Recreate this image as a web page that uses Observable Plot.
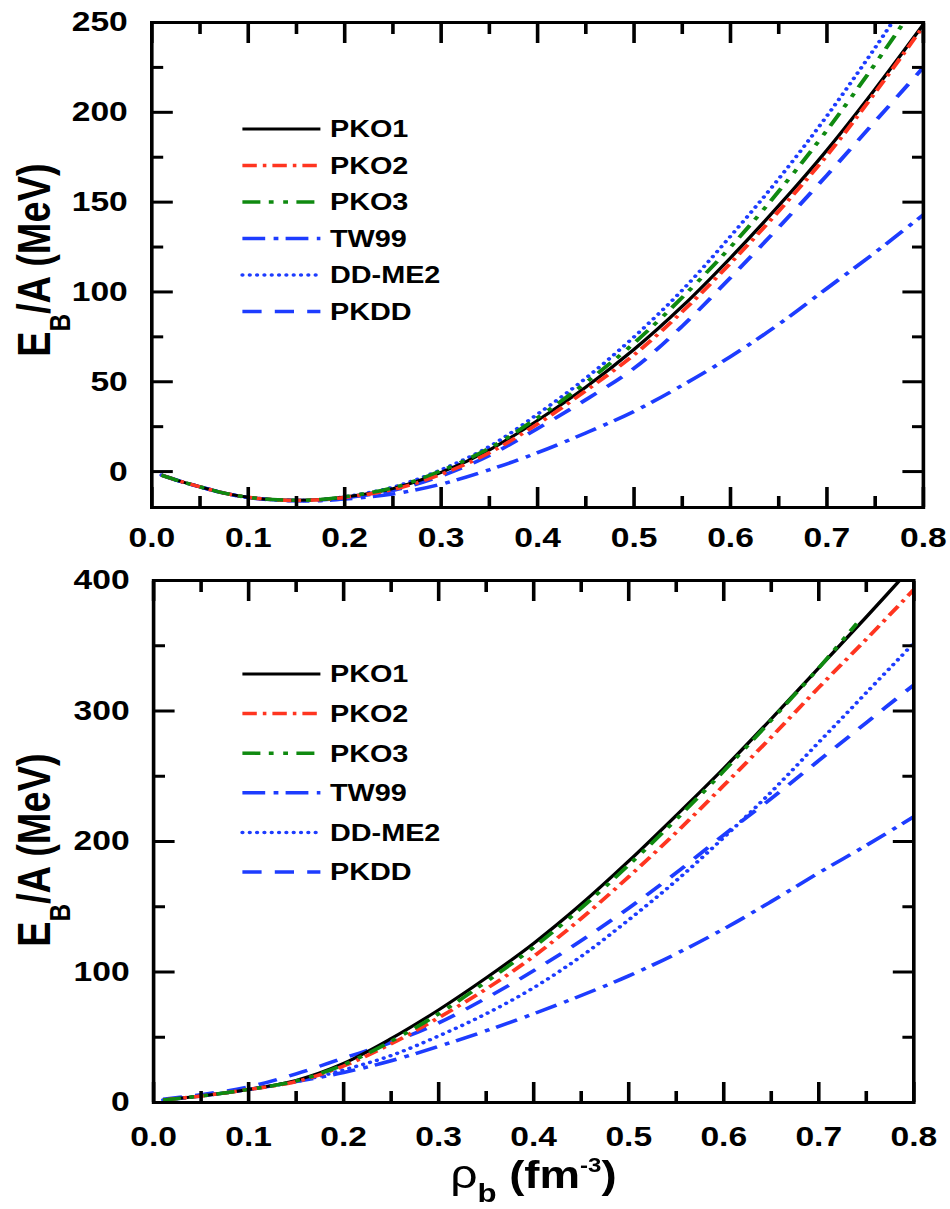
<!DOCTYPE html>
<html><head><meta charset="utf-8">
<script src="https://cdn.jsdelivr.net/npm/d3@7"></script>
<script src="https://cdn.jsdelivr.net/npm/@observablehq/plot@0.6"></script>
<style>
html,body{margin:0;padding:0;background:#fff;overflow:hidden;}
#wrap{width:792px;transform:scaleX(1.2);transform-origin:0 0;}
#wrap svg{display:block;}
</style></head><body><div id="wrap"></div>
<script>
// ---- data ----
const seriesNames = ["PKO1", "PKO2", "PKO3", "TW99", "DD-ME2", "PKDD"];
const seriesColors = ["#000000", "#ff3520", "#0f8a10", "#1d3cff", "#1d3cff", "#1d3cff"];
const seriesDash = [null, "12,5,3,5", "15,7,4,8,4,7", "19,7,4,6", "0.1,6", "16,11"];
const seriesCap = ["butt", "butt", "butt", "butt", "round", "butt"];
const seriesWidth = [3, 3.5, 3.5, 3.5, 3.5, 3.5];
const drawOrder = [3, 4, 5, 0, 1, 2];

// upper panel: symmetric matter
const rhoTop = [0.01, 0.03, 0.05, 0.075, 0.1, 0.125, 0.15, 0.175, 0.2, 0.25, 0.3, 0.35, 0.4, 0.45, 0.5, 0.55, 0.6, 0.65, 0.7, 0.75, 0.8];
const topPKO1 = [-2, -5.5, -8.5, -12, -14.3, -15.6, -16, -15.6, -14.2, -9.5, -0.5, 12, 28.5, 47, 68, 92, 119, 148, 179, 213, 249];
const topPKO2 = [-2, -5.5, -8.5, -12, -14.3, -15.6, -16.1, -15.7, -14.4, -10, -1.5, 10.5, 26.5, 45, 65, 89, 116, 145, 176, 211, 248];
const topPKO3 = [-2, -5.5, -8.5, -12, -14.3, -15.6, -16, -15.5, -14, -9, 0.5, 13, 30, 49.5, 71.5, 97, 125, 156, 190, 227, 266];
const topTW99 = [-2, -5.5, -8.5, -12, -14.5, -15.8, -16.3, -16.2, -15.3, -12.5, -7, 1, 10.5, 21.5, 33.5, 48, 64, 82, 102, 122, 143];
const topDDME2 = [-2, -5.5, -8.5, -12, -14.3, -15.6, -16.1, -15.6, -14, -8.7, 1, 14, 32, 52, 75, 101, 131, 163, 198, 236, 276];
const topPKDD = [-2, -5.5, -8.5, -12, -14.4, -15.7, -16.1, -15.8, -14.6, -10.5, -2.5, 9, 24, 40, 57.5, 81, 108, 136, 165, 195, 225];

// lower panel: neutron matter
const rhoBot = [0.01, 0.05, 0.1, 0.15, 0.2, 0.25, 0.3, 0.35, 0.4, 0.45, 0.5, 0.55, 0.6, 0.65, 0.7, 0.75, 0.8];
const rhoBotPKO3 = [0.01, 0.05, 0.1, 0.15, 0.2, 0.25, 0.3, 0.35, 0.4, 0.45, 0.5, 0.55, 0.6, 0.65, 0.7, 0.74];
const botPKO1 = [2, 5, 10, 17, 30, 49, 71, 95.5, 122, 152, 185, 220, 256, 294, 333, 372, 412];
const botPKO2 = [2, 5, 10, 16, 28, 45, 65, 87, 112, 141, 173, 207, 243, 280, 318, 355, 393];
const botPKO3 = [2, 5, 10, 16.5, 29, 47, 68, 92.5, 119, 149, 182, 217, 254, 293, 333, 367];
const botTW99 = [2, 5, 10, 16, 23, 32, 43, 55, 68, 82, 97, 114, 133, 154, 176, 197, 219];
const botDDME2 = [2, 5, 10, 16, 25, 36, 51, 68, 88, 112, 140, 170, 203, 238, 276, 314, 352];
const botPKDD = [2.5, 6, 12, 22, 34, 46, 61, 80, 101, 124, 149, 176, 205, 233, 262, 291, 320];

const xMajor = [0, 0.1, 0.2, 0.3, 0.4, 0.5, 0.6, 0.7, 0.8];
const xMinor = [0.05, 0.15, 0.25, 0.35, 0.45, 0.55, 0.65, 0.75];
const yMajorTop = [0, 50, 100, 150, 200, 250];
const yMinorTop = [25, 75, 125, 175, 225];
const yMajorBot = [0, 100, 200, 300, 400];
const yMinorBot = [50, 150, 250, 350];

// ---- build ----
const FONT = "'Liberation Sans', Arial, sans-serif";
function toRows(xs, ys) { return xs.map((x, i) => ({rho: x, e: ys[i]})); }

function panel(cfg) {
  const lines = drawOrder.map(i => {
    const s = cfg.series[i];
    return Plot.line(toRows(s.rho, s.e), {
      x: "rho", y: "e", stroke: seriesColors[i], strokeWidth: seriesWidth[i],
      strokeDasharray: seriesDash[i] || undefined, strokeLinecap: seriesCap[i],
      curve: "catmull-rom", clip: true
    });
  });
  const plot = Plot.plot({
    width: 792, height: cfg.height,
    marginLeft: cfg.ml, marginRight: cfg.mr, marginTop: cfg.mt, marginBottom: cfg.mb,
    x: {domain: [0, 0.8]},
    y: {domain: cfg.yDomain},
    style: {fontFamily: FONT, fontWeight: "bold", fontSize: "28px", color: "#000", background: "#fff", overflow: "visible"},
    marks: [
      ...lines,
      Plot.frame({stroke: "#000", strokeWidth: 3}),
      Plot.axisX({ticks: xMajor, anchor: "bottom", tickSize: -20, fill: null, label: null, strokeWidth: 3}),
      Plot.axisX({ticks: xMinor, anchor: "bottom", tickSize: -11, fill: null, label: null, strokeWidth: 3}),
      Plot.axisX({ticks: xMajor, anchor: "top", tickSize: -20, fill: null, label: null, strokeWidth: 3}),
      Plot.axisX({ticks: xMinor, anchor: "top", tickSize: -11, fill: null, label: null, strokeWidth: 3}),
      Plot.axisX({ticks: xMajor, anchor: "bottom", tickSize: 0, tickPadding: cfg.xPad, tickFormat: d => d.toFixed(1), label: null, fontSize: 28, fontWeight: "bold"}),
      Plot.axisY({ticks: cfg.yMajor, anchor: "left", tickSize: -18, fill: null, label: null, strokeWidth: 3}),
      Plot.axisY({ticks: cfg.yMinor, anchor: "left", tickSize: -10, fill: null, label: null, strokeWidth: 3}),
      Plot.axisY({ticks: cfg.yMajor, anchor: "right", tickSize: -18, fill: null, label: null, strokeWidth: 3}),
      Plot.axisY({ticks: cfg.yMinor, anchor: "right", tickSize: -10, fill: null, label: null, strokeWidth: 3}),
      Plot.axisY({ticks: cfg.yMajor, anchor: "left", tickSize: 0, tickPadding: 20, tickFormat: d => String(d), label: null, fontSize: 28, fontWeight: "bold"})
    ]
  });
  const svg = d3.select(plot);
  // legend
  const lg = svg.append("g").attr("text-anchor", "start");
  seriesNames.forEach((name, i) => {
    const y = cfg.legY0 + i * cfg.legStep;
    lg.append("line").attr("x1", 202).attr("x2", 267).attr("y1", y).attr("y2", y)
      .attr("stroke", seriesColors[i]).attr("stroke-width", seriesWidth[i])
      .attr("stroke-dasharray", seriesDash[i]).attr("stroke-linecap", seriesCap[i]);
    lg.append("text").attr("x", 275).attr("y", y + 8.5).attr("text-anchor", "start")
      .attr("font-family", FONT).attr("font-weight", "bold").attr("font-size", 24).attr("fill", "#000")
      .text(name);
  });
  // y axis label
  const yl = svg.append("text")
    .attr("transform", `translate(42,${cfg.yLabCy}) rotate(-90)`)
    .attr("text-anchor", "middle")
    .attr("font-family", FONT).attr("font-weight", "bold").attr("font-size", 38).attr("fill", "#000");
  yl.append("tspan").text("E");
  yl.append("tspan").attr("font-size", 24).attr("dy", 16).text("B");
  yl.append("tspan").attr("dy", -16).text("/A (MeV)");
  if (cfg.xLabel) {
    const xl = svg.append("text")
      .attr("x", 444.5).attr("y", cfg.xLabY).attr("text-anchor", "middle")
      .attr("font-family", FONT).attr("font-weight", "bold").attr("font-size", 38).attr("fill", "#000");
    xl.append("tspan").attr("font-weight", "normal").attr("font-size", 40).text("\u03C1");
    xl.append("tspan").attr("font-size", 26).attr("dy", 14).text("b");
    xl.append("tspan").attr("dy", -14).text(" (fm");
    xl.append("tspan").attr("font-size", 20).attr("dy", -16).text("-3");
    xl.append("tspan").attr("dy", 16).text(")");
  }
  return plot;
}

const wrap = document.getElementById("wrap");
wrap.appendChild(panel({
  height: 560, ml: 126, mr: 23, mt: 22, mb: 53, xPad: 20,
  yDomain: [-20, 250], yMajor: yMajorTop, yMinor: yMinorTop,
  series: [
    {rho: rhoTop, e: topPKO1}, {rho: rhoTop, e: topPKO2}, {rho: rhoTop, e: topPKO3},
    {rho: rhoTop, e: topTW99}, {rho: rhoTop, e: topDDME2}, {rho: rhoTop, e: topPKDD}
  ],
  legY0: 129, legStep: 36.5, yLabCy: 260, xLabel: false
}));
wrap.appendChild(panel({
  height: 649, ml: 127.5, mr: 31, mt: 20, mb: 107, xPad: 24,
  yDomain: [0, 400], yMajor: yMajorBot, yMinor: yMinorBot,
  series: [
    {rho: rhoBot, e: botPKO1}, {rho: rhoBot, e: botPKO2}, {rho: rhoBotPKO3, e: botPKO3},
    {rho: rhoBot, e: botTW99}, {rho: rhoBot, e: botDDME2}, {rho: rhoBot, e: botPKDD}
  ],
  legY0: 114, legStep: 39.6, yLabCy: 290, xLabel: true, xLabY: 628
}));
</script>
</body></html>
